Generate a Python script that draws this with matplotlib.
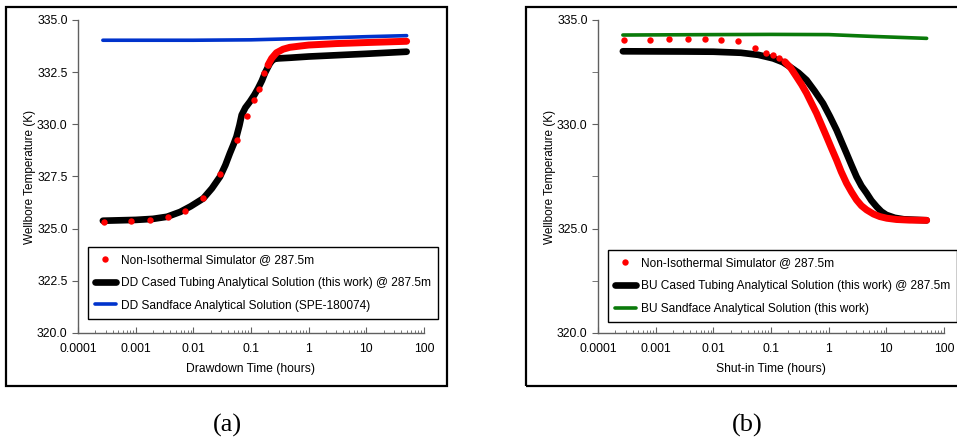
import numpy as np
import matplotlib
matplotlib.use("Agg")
import matplotlib.pyplot as plt
from matplotlib.patches import Rectangle
from matplotlib.ticker import LogLocator, MultipleLocator, FormatStrFormatter, NullFormatter

plt.rcParams['font.family'] = ['Liberation Sans', 'DejaVu Sans']

# ---------- (a) drawdown ----------
t_sim_a = [0.00028, 0.00083, 0.0018, 0.0037, 0.0073, 0.0146, 0.029, 0.057,
           0.084, 0.114, 0.14, 0.169, 0.197]
T_sim_a = [325.33, 325.37, 325.43, 325.56, 325.86, 326.45, 327.6, 329.25,
           330.41, 331.17, 331.71, 332.45, 332.84]
t_sim_a_dense = [0.197, 0.228, 0.276, 0.36, 0.47, 0.7, 1, 3, 10, 50]
T_sim_a_dense = [332.84, 333.16, 333.43, 333.6, 333.69, 333.75, 333.8, 333.87,
                 333.92, 333.98]

t_cased_a = [0.00027, 0.001, 0.002, 0.0035, 0.0059, 0.009, 0.0149, 0.021, 0.029,
             0.036, 0.043, 0.05, 0.056, 0.063, 0.069, 0.08, 0.096, 0.115, 0.133,
             0.155, 0.174, 0.195, 0.213, 0.235, 0.259, 0.3, 0.47, 1, 10, 50]
T_cased_a = [325.38, 325.42, 325.47, 325.57, 325.8, 326.07, 326.45, 326.93, 327.49,
             328.05, 328.61, 329.05, 329.41, 329.95, 330.45, 330.8, 331.09, 331.42,
             331.73, 332.1, 332.45, 332.72, 332.92, 333.07, 333.14, 333.16, 333.19,
             333.25, 333.38, 333.48]

t_sand_a = [0.00027, 0.01, 0.1, 1, 10, 50]
T_sand_a = [334.03, 334.03, 334.05, 334.12, 334.2, 334.25]

# ---------- (b) buildup ----------
t_sim_b = [0.00028, 0.0008, 0.0017, 0.0036, 0.0071, 0.0137, 0.027, 0.053,
           0.082, 0.109, 0.139, 0.174]
T_sim_b = [334.03, 334.03, 334.07, 334.07, 334.07, 334.03, 334.0, 333.64,
           333.43, 333.32, 333.19, 333.0]
t_sim_b_dense = [0.174, 0.22, 0.277, 0.34, 0.414, 0.5, 0.616, 0.75, 0.92, 1.12,
                 1.37, 1.65, 2.04, 2.5, 3.04, 3.7, 4.55, 6, 7.7, 10.2, 15, 25, 50]
T_sim_b_dense = [333.0, 332.7, 332.28, 331.9, 331.49, 331.03, 330.53, 329.98,
                 329.41, 328.85, 328.29, 327.73, 327.18, 326.75, 326.38, 326.1,
                 325.9, 325.7, 325.58, 325.5, 325.44, 325.41, 325.4]

t_cased_b = [0.00027, 0.003, 0.01, 0.03, 0.06, 0.109, 0.16, 0.212, 0.3, 0.414,
             0.57, 0.8, 1.05, 1.37, 1.67, 2.04, 2.5, 3.04, 3.7, 4.55, 5.5, 6.8,
             8.2, 10, 14, 20, 50]
T_cased_b = [333.5, 333.49, 333.48, 333.43, 333.33, 333.16, 332.98, 332.76, 332.47,
             332.12, 331.6, 331.0, 330.38, 329.73, 329.17, 328.61, 328.03, 327.49,
             327.05, 326.7, 326.35, 326.05, 325.82, 325.66, 325.52, 325.45, 325.4]

t_sand_b = [0.00027, 0.01, 0.1, 1, 5, 50]
T_sand_b = [334.28, 334.3, 334.31, 334.3, 334.22, 334.12]

fig = plt.figure(figsize=(9.57, 4.46), dpi=100)
W, H = 957.0, 446.0


def make_axes(x0):
    ax = fig.add_axes([x0 / W, 1 - 333 / H, 346 / W, 313 / H])
    ax.set_xscale('log')
    ax.set_xlim(0.0001, 100)
    ax.set_ylim(320, 335)
    for s in ['top', 'right']:
        ax.spines[s].set_visible(False)
    for s in ['left', 'bottom']:
        ax.spines[s].set_color('#606060')
        ax.spines[s].set_linewidth(1.0)
    ax.xaxis.set_minor_locator(LogLocator(base=10, subs=np.arange(2, 10), numticks=10))
    ax.xaxis.set_minor_formatter(NullFormatter())
    ax.set_xticks([0.0001, 0.001, 0.01, 0.1, 1, 10, 100])
    ax.set_xticklabels(['0.0001', '0.001', '0.01', '0.1', '1', '10', '100'])
    ax.tick_params(axis='x', which='major', direction='in', length=4, color='#606060',
                   labelsize=8.7, pad=7)
    ax.tick_params(axis='x', which='minor', direction='in', length=2.5, color='#606060')
    ax.tick_params(axis='y', which='both', direction='out', length=4, color='#606060',
                   labelsize=8.7)
    ax.yaxis.set_major_formatter(FormatStrFormatter('%.1f'))
    ax.set_ylabel('Wellbore Temperature (K)', fontsize=8.5, labelpad=1)
    return ax


def add_legend(ax, top):
    h, l = ax.get_legend_handles_labels()
    leg = ax.legend([h[2], h[1], h[0]], [l[2], l[1], l[0]], loc='upper left',
                    bbox_to_anchor=(0.029, top), borderaxespad=0, fontsize=8.6,
                    fancybox=False, edgecolor='black', framealpha=1,
                    handlelength=1.7, handletextpad=0.45, labelspacing=0.9,
                    borderpad=0.6)
    leg.get_frame().set_linewidth(1.0)
    return leg


ax1 = make_axes(78)
ax1.yaxis.set_major_locator(MultipleLocator(2.5))
ax1.plot(t_sand_a, T_sand_a, color='#0033cc', lw=2.6, solid_capstyle='round',
         label='DD Sandface Analytical Solution (SPE-180074)', zorder=2)
ax1.plot(t_cased_a, T_cased_a, color='black', lw=4.8, solid_capstyle='round',
         label='DD Cased Tubing Analytical Solution (this work) @ 287.5m', zorder=3)
ax1.plot(t_sim_a_dense, T_sim_a_dense, color='red', lw=5, solid_capstyle='round', zorder=4)
ax1.plot(t_sim_a, T_sim_a, 'o', color='red', ms=4.6, mew=0,
         label='Non-Isothermal Simulator @ 287.5m', zorder=5)
ax1.set_xlabel('Drawdown Time (hours)', fontsize=8.7, labelpad=6)
add_legend(ax1, 0.275)

ax2 = make_axes(598)
ax2.yaxis.set_major_locator(MultipleLocator(5))
ax2.yaxis.set_minor_locator(MultipleLocator(2.5))
ax2.plot(t_sand_b, T_sand_b, color='#0a7a0a', lw=2.6, solid_capstyle='round',
         label='BU Sandface Analytical Solution (this work)', zorder=2)
ax2.plot(t_cased_b, T_cased_b, color='black', lw=4.8, solid_capstyle='round',
         label='BU Cased Tubing Analytical Solution (this work) @ 287.5m', zorder=3)
ax2.plot(t_sim_b_dense, T_sim_b_dense, color='red', lw=5, solid_capstyle='round', zorder=4)
ax2.plot(t_sim_b, T_sim_b, 'o', color='red', ms=4.6, mew=0,
         label='Non-Isothermal Simulator @ 287.5m', zorder=5)
ax2.set_xlabel('Shut-in Time (hours)', fontsize=8.7, labelpad=6)
add_legend(ax2, 0.265)

# panel frames
fig.patches.append(Rectangle((6 / W, 1 - 386 / H), 441 / W, 379 / H, fill=False,
                             edgecolor='black', lw=1.6, transform=fig.transFigure))
fig.patches.append(Rectangle((526 / W, 1 - 386 / H), 440 / W, 379 / H, fill=False,
                             edgecolor='black', lw=1.6, transform=fig.transFigure))

fig.text(227 / W, 1 - 425 / H, '(a)', ha='center', va='center', fontsize=19,
         family='Liberation Serif')
fig.text(747 / W, 1 - 425 / H, '(b)', ha='center', va='center', fontsize=19,
         family='Liberation Serif')

fig.savefig('out.png', dpi=100)
